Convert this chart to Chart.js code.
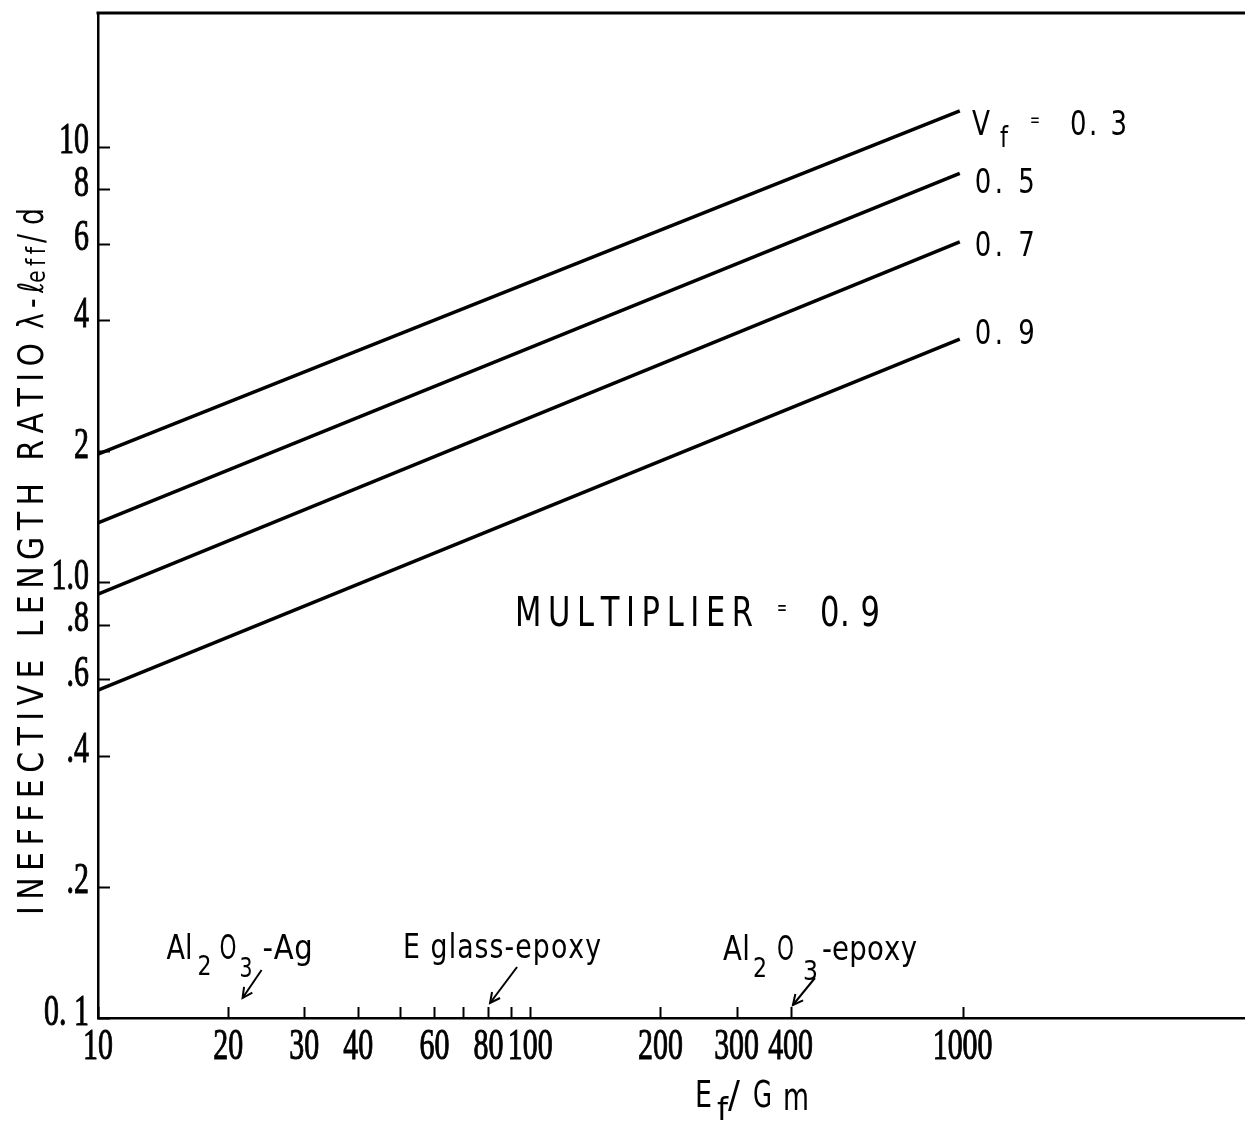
<!DOCTYPE html>
<html>
<head>
<meta charset="utf-8">
<script src="https://cdn.jsdelivr.net/npm/chart.js@4.4.0/dist/chart.umd.min.js"></script>
<style>
html, body { margin: 0; padding: 0; background: #ffffff; }
canvas { display: block; }
</style>
</head>
<body>
<canvas id="chart" width="1245" height="1122"></canvas>
<script>
// ---------------- data ----------------
const xEnds = [10, 985];                 // Ef/Gm at line start / end
const vfNames = ['0.3', '0.5', '0.7', '0.9'];
const vf03 = [1.97, 12.1];
const vf05 = [1.37, 8.7];
const vf07 = [0.94, 6.05];
const vf09 = [0.566, 3.62];

const xTickValues = [10, 20, 30, 40, 50, 60, 70, 80, 90, 100, 200, 300, 400, 1000];
const xTickLabels = ['10', '20', '30', '40', '', '60', '', '80', '', '100', '200', '300', '400', '1000'];
const yTickValues = [0.1, 0.2, 0.4, 0.6, 0.8, 1, 2, 4, 6, 8, 10];
const yTickLabels = ['0. 1', '.2', '.4', '.6', '.8', '1.0', '2', '4', '6', '8', '10'];

const materialNames = ['Al2O3-Ag', 'E glass-epoxy', 'Al2O3-epoxy'];
const materialValues = [21.6, 80.7, 405];

const xMin = 10, xMax = 4500, yMin = 0.1, yMax = 20.3;
const multiplierText = 'MULTIPLIER = 0.9';

// ---------------- fonts ----------------
const tickFont = { family: '"Liberation Serif", "DejaVu Serif", serif', size: 44, weight: 'normal' };
const TICK_CONDENSE = 0.68;
const SANS = '"DejaVu Sans Condensed", "DejaVu Sans", sans-serif';

function fitText(ctx, text, x, baseline, w, size, hs, family) {
  hs = hs || 0.85;
  ctx.save();
  ctx.font = size + 'px ' + (family || SANS);
  ctx.textAlign = 'left';
  ctx.textBaseline = 'alphabetic';
  ctx.fillStyle = '#000';
  const chars = Array.from(text);
  const natural = ctx.measureText(text).width * hs;
  ctx.translate(x, baseline);
  if (chars.length < 2 || natural >= w) {
    ctx.scale(w / (natural / hs), 1);
    ctx.fillText(text, 0, 0);
  } else {
    ctx.scale(hs, 1);
    const widths = chars.map(c => ctx.measureText(c).width);
    const sumW = widths.reduce((a, b) => a + b, 0);
    const gap = (w / hs - sumW) / (chars.length - 1);
    let cx = 0;
    chars.forEach((c, i) => { ctx.fillText(c, cx, 0); cx += widths[i] + gap; });
  }
  ctx.restore();
}

function arrow(ctx, x1, y1, x2, y2) {
  ctx.save();
  ctx.strokeStyle = '#000';
  ctx.lineWidth = 2;
  const ang = Math.atan2(y2 - y1, x2 - x1);
  const hl = 10, hw = 5;
  const bx = x2 - hl * Math.cos(ang), by = y2 - hl * Math.sin(ang);
  ctx.beginPath(); ctx.moveTo(x1, y1); ctx.lineTo(x2, y2); ctx.stroke();
  ctx.beginPath();
  ctx.moveTo(bx + hw * Math.sin(ang), by - hw * Math.cos(ang));
  ctx.lineTo(x2, y2);
  ctx.lineTo(bx - hw * Math.sin(ang), by + hw * Math.cos(ang));
  ctx.stroke();
  ctx.restore();
}

// horizontally condense the axis tick labels drawn by Chart.js (scales are drawn before datasets)
const condenseTicks = {
  id: 'condenseTicks',
  beforeDraw(chart) {
    const ctx = chart.ctx;
    const P = CanvasRenderingContext2D.prototype;
    ['fillText', 'strokeText'].forEach(fn => {
      const orig = P[fn];
      ctx[fn] = function (t, x, y) {
        this.save();
        this.translate(x, y);
        this.scale(TICK_CONDENSE, 1);
        orig.call(this, t, 0, 0);
        this.restore();
      };
    });
  },
  beforeDatasetsDraw(chart) {
    delete chart.ctx.fillText;
    delete chart.ctx.strokeText;
  }
};

// label anchors in data units
const lineLabelAnchors = [ {x: 1051, y: 11.41}, {x: 1067, y: 8.40}, {x: 1067, y: 6.02}, {x: 1067, y: 3.78} ];

const decor = {
  id: 'decor',
  afterDraw(chart) {
    const ctx = chart.ctx;
    const a = chart.chartArea;
    const xs = chart.scales.x, ys = chart.scales.y;
    ctx.save();
    // top frame line
    ctx.strokeStyle = '#000';
    ctx.lineWidth = 3;
    ctx.beginPath(); ctx.moveTo(a.left - 1.5, a.top); ctx.lineTo(a.right, a.top); ctx.stroke();
    // inward tick marks
    ctx.lineWidth = 2;
    xTickValues.forEach(v => {
      const px = Math.round(xs.getPixelForValue(v)) + 0.5;
      ctx.beginPath(); ctx.moveTo(px, a.bottom); ctx.lineTo(px, a.bottom - 11); ctx.stroke();
    });
    yTickValues.forEach(v => {
      const py = Math.round(ys.getPixelForValue(v)) + 0.5;
      ctx.beginPath(); ctx.moveTo(a.left, py); ctx.lineTo(a.left + 12, py); ctx.stroke();
    });
    ctx.restore();

    // line labels
    lineLabelAnchors.forEach((p, i) => {
      const px = xs.getPixelForValue(p.x), py = ys.getPixelForValue(p.y);
      if (i === 0) {
        fitText(ctx, 'V', px, py + 13, 18, 34);
        fitText(ctx, 'f', px + 28, py + 25, 8, 28);
        fitText(ctx, '=', px + 58, py + 4, 10, 20);
        fitText(ctx, '0. ' + vfNames[i].slice(2), px + 98, py + 13, 57, 34);
      } else {
        fitText(ctx, '0. ' + vfNames[i].slice(2), px, py + 13, 60, 34);
      }
    });

    // MULTIPLIER note
    {
      const px = xs.getPixelForValue(92.2), py = ys.getPixelForValue(0.856);
      const parts = multiplierText.split(' ');
      fitText(ctx, parts[0], px, py + 14, 238, 40, 0.85);
      fitText(ctx, parts[1], px + 262, py + 3, 10, 22);
      fitText(ctx, '0. 9', px + 305, py + 14, 60, 40, 0.85);
    }

    // material annotations
    const base = a.bottom;
    {
      const tx = xs.getPixelForValue(materialValues[0]);
      fitText(ctx, 'Al', tx - 76, base - 59, 26, 34, 0.9);
      fitText(ctx, '2', tx - 45, base - 43, 14, 26);
      fitText(ctx, 'O', tx - 23, base - 59, 17, 34);
      fitText(ctx, '3', tx - 3, base - 41, 13, 26);
      fitText(ctx, '-Ag', tx + 20, base - 59, 50, 34, 0.95);
      arrow(ctx, tx + 19, base - 48, tx, base - 20);
    }
    {
      const tx = xs.getPixelForValue(materialValues[1]);
      fitText(ctx, materialNames[1], tx - 87, base - 60, 198, 33, 0.9);
      arrow(ctx, tx + 27, base - 51, tx, base - 15);
    }
    {
      const tx = xs.getPixelForValue(materialValues[2]);
      fitText(ctx, 'Al', tx - 70, base - 58, 27, 34, 0.9);
      fitText(ctx, '2', tx - 40, base - 41, 14, 26);
      fitText(ctx, 'O', tx - 16, base - 58, 17, 34);
      fitText(ctx, '3', tx + 10, base - 38, 15, 26);
      fitText(ctx, '-epoxy', tx + 29, base - 58, 95, 34, 0.9);
      arrow(ctx, tx + 22, base - 40, tx, base - 13);
    }

    // x-axis title  E_f / G_m
    {
      const x0 = 695, b = chart.height - 15;
      fitText(ctx, 'E', x0, b, 17, 38);
      fitText(ctx, 'f', x0 + 22, b + 13, 11, 32);
      fitText(ctx, '/', x0 + 33, b, 12, 38);
      fitText(ctx, 'G', x0 + 58, b, 19, 38);
      fitText(ctx, 'm', x0 + 88, b + 3, 26, 38);
    }

    // y-axis title (rotated)
    {
      ctx.save();
      ctx.translate(43, ys.getPixelForValue(yMin) - 103);
      ctx.rotate(-Math.PI / 2);
      fitText(ctx, 'INEFFECTIVE LENGTH RATIO', 0, 0, 572, 35, 0.95);
      fitText(ctx, 'λ-ℓ', 586, 0, 47, 35);
      fitText(ctx, 'eff', 632, 2, 36, 27);
      fitText(ctx, '/d', 672, 0, 35, 35);
      ctx.restore();
    }
  }
};

const seriesValues = [vf03, vf05, vf07, vf09];
const datasets = seriesValues.map((vals, i) => ({
  label: 'Vf = ' + vfNames[i],
  data: xEnds.map((x, j) => ({ x: x, y: vals[j] })),
  borderColor: '#000',
  borderWidth: 3.5,
  pointRadius: 0,
  fill: false,
  tension: 0
}));

new Chart(document.getElementById('chart').getContext('2d'), {
  type: 'line',
  data: { datasets },
  options: {
    responsive: false,
    animation: false,
    layout: { padding: { top: 13, left: 0, right: 0, bottom: 0 } },
    plugins: { legend: { display: false }, tooltip: { enabled: false }, title: { display: false } },
    scales: {
      x: {
        type: 'logarithmic', position: 'bottom', min: xMin, max: xMax,
        afterBuildTicks: s => { s.ticks = xTickValues.map(v => ({ value: v })); },
        afterFit: s => { s.height = 104; s.paddingLeft = 0; s.paddingRight = 0; },
        ticks: {
          autoSkip: false, maxRotation: 0, minRotation: 0, padding: 3, color: '#000',
          textStrokeColor: '#000', textStrokeWidth: 1,
          font: tickFont,
          callback: (v, i) => xTickLabels[i]
        },
        grid: { display: true, drawOnChartArea: false, drawTicks: false },
        border: { display: true, color: '#000', width: 2.5 }
      },
      y: {
        type: 'logarithmic', position: 'left', min: yMin, max: yMax,
        afterBuildTicks: s => { s.ticks = yTickValues.map(v => ({ value: v })); },
        afterFit: s => { s.width = 98; s.paddingTop = 0; s.paddingBottom = 0; },
        ticks: {
          autoSkip: false, padding: 9, color: '#000', labelOffset: -5,
          textStrokeColor: '#000', textStrokeWidth: 1,
          font: tickFont,
          callback: (v, i) => yTickLabels[i]
        },
        grid: { display: true, drawOnChartArea: false, drawTicks: false },
        border: { display: true, color: '#000', width: 2.5 }
      }
    }
  },
  plugins: [condenseTicks, decor]
});
</script>
</body>
</html>
